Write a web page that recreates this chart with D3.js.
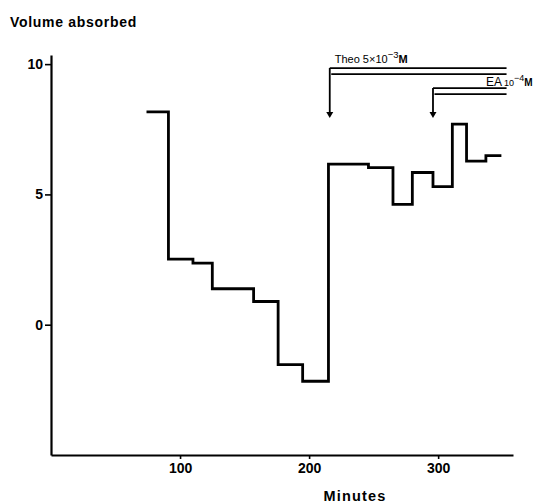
<!DOCTYPE html>
<html><head><meta charset="utf-8">
<script src="https://cdn.jsdelivr.net/npm/d3@7"></script>
<style>body{margin:0;background:#fff}svg{display:block}</style>
</head><body>
<svg id="c" width="543" height="503"></svg>
<script>
// Step-series data (minutes at each breakpoint, value for each segment)
const stepTimes = [74, 91, 110, 125, 157, 176, 195, 215, 246, 265, 280, 296, 311, 322, 337, 349];
const stepValues = [8.17, 2.52, 2.36, 1.38, 0.89, -1.53, -2.17, 6.16, 6.03, 4.62, 5.84, 5.30, 7.70, 6.28, 6.49];
const xTicks = [100, 200, 300];
const yTicks = [0, 5, 10];
// Drug additions (minutes), their label top levels and arrow tip level
const doseNames = ["Theo", "EA"];
const doseTimes = [216, 296];
const doseTops = [9.85, 9.08];
const arrowTip = 7.93;
const doseEnd = 353;

const svg = d3.select("#c");
const x = d3.scaleLinear().domain([0, 358]).range([51, 513]);
const y = d3.scaleLinear().domain([-5, 10.35]).range([455, 55]);
const font = "'Liberation Sans', Arial, sans-serif";

// Axes
const xAxis = d3.axisBottom(x).tickValues(xTicks).tickSize(4).tickSizeOuter(0).tickPadding(4);
const gx = svg.append("g").attr("transform", `translate(0,${y(-5)})`).call(xAxis);
const yAxis = d3.axisLeft(y).tickValues(yTicks).tickSize(6).tickSizeOuter(0).tickPadding(2);
const gy = svg.append("g").attr("transform", `translate(${x(0)},0)`).call(yAxis);
[gx, gy].forEach(g => {
  g.select(".domain").attr("stroke", "#000").attr("stroke-width", 2.2);
  g.selectAll(".tick line").attr("stroke", "#000").attr("stroke-width", 1.6);
  g.selectAll(".tick text").attr("fill", "#000").style("font-family", font)
    .style("font-size", "14px").style("font-weight", "bold");
});

// Titles
svg.append("text").attr("x", 10).attr("y", 27).text("Volume absorbed")
  .style("font-family", font).style("font-size", "14px").style("font-weight", "bold")
  .style("letter-spacing", "0.7px");
svg.append("text").attr("x", 355).attr("y", 501).attr("text-anchor", "middle").text("Minutes")
  .style("font-family", font).style("font-size", "14.5px").style("font-weight", "bold")
  .style("letter-spacing", "1.2px");

// Step line
const pts = stepValues.map((v, i) => [stepTimes[i], v]);
pts.push([stepTimes[stepTimes.length - 1], stepValues[stepValues.length - 1]]);
const line = d3.line().x(d => x(d[0])).y(d => y(d[1])).curve(d3.curveStepAfter);
svg.append("path").attr("d", line(pts)).attr("fill", "none").attr("stroke", "#000")
  .attr("stroke-width", 2.8).attr("stroke-linejoin", "miter");

// Dose annotations
doseTimes.forEach((t, i) => {
  const g = svg.append("g").attr("stroke", "#000").attr("stroke-width", 1.8).attr("fill", "none");
  const x0 = x(t), yt = y(doseTops[i]), ye = x(doseEnd);
  g.append("line").attr("x1", x0).attr("x2", x0).attr("y1", yt).attr("y2", y(arrowTip) - 5);
  g.append("line").attr("x1", x0).attr("x2", ye).attr("y1", yt).attr("y2", yt);
  g.append("line").attr("x1", x0 + 1.5).attr("x2", ye).attr("y1", yt + 6).attr("y2", yt + 6);
  const tip = y(arrowTip);
  svg.append("path").attr("d", `M${x0 - 3.5},${tip - 6} L${x0 + 3.5},${tip - 6} L${x0},${tip} Z`)
    .attr("fill", "#000");
});

// Labels
const t1 = svg.append("text").attr("x", x(doseTimes[0]) + 5).attr("y", y(doseTops[0]) - 5)
  .style("font-family", font).style("font-size", "11px");
t1.append("tspan").text("Theo 5×10");
t1.append("tspan").attr("dy", -5).style("font-size", "9.5px").text("−3");
t1.append("tspan").attr("dy", 5).style("font-weight", "bold").text("M");

const t2 = svg.append("text").attr("x", 486).attr("y", y(doseTops[1]) - 2)
  .style("font-family", font).style("font-size", "10px");
t2.append("tspan").text("EA").style("font-size", "12px");
t2.append("tspan").attr("dx", 2).style("font-size", "9px").text("10");
t2.append("tspan").attr("dy", -5).style("font-size", "9px").text("−4");
t2.append("tspan").attr("dy", 5).style("font-size", "10px").style("font-weight", "bold").text("M");
</script>
</body></html>
